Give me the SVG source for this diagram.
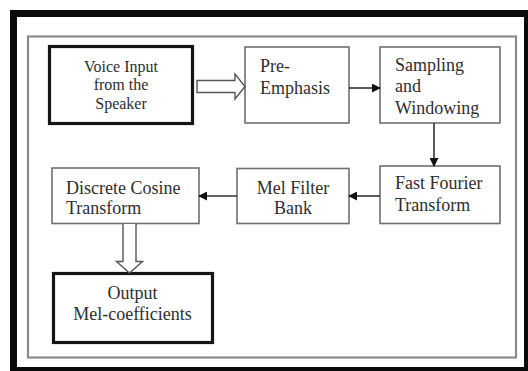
<svg xmlns="http://www.w3.org/2000/svg" width="528" height="371" viewBox="0 0 528 371">
<defs>
<style>
.box{fill:#fff;stroke:#707070;stroke-width:1.6}
.thick{fill:#fff;stroke:#151515;stroke-width:3.2}
.t{font-family:"Liberation Serif","Times New Roman",serif;font-size:18px;fill:#2e2e2e}
.c{text-anchor:middle}
.ln{stroke:#333;stroke-width:1.6;fill:none}
.hollow{fill:#fff;stroke:#555;stroke-width:1.4}
</style>
<marker id="ah" viewBox="0 0 10 10" refX="9" refY="5" markerWidth="9" markerHeight="9" markerUnits="userSpaceOnUse" orient="auto">
<path d="M0,0 L10,5 L0,10 z" fill="#111"/>
</marker>
</defs>
<rect x="0" y="0" width="528" height="371" fill="#fff"/>
<rect x="13.5" y="13.5" width="514" height="357" fill="none" stroke="#0a0a0a" stroke-width="7"/>
<rect x="28" y="36.5" width="488" height="321" fill="none" stroke="#8a8a8a" stroke-width="2.2"/>

<g id="voice">
<rect class="thick" x="49.5" y="46.5" width="143" height="77"/>
<text class="t c" x="121" y="71.5" style="font-size:16px">Voice Input</text>
<text class="t c" x="121" y="90" style="font-size:16px">from the</text>
<text class="t c" x="121" y="108.5" style="font-size:16px">Speaker</text>
</g>
<g id="preemphasis">
<rect class="box" x="245" y="47" width="104" height="76"/>
<text class="t" x="260" y="72">Pre-</text>
<text class="t" x="260" y="93.5">Emphasis</text>
</g>
<g id="sampling">
<rect class="box" x="380" y="47" width="120" height="76"/>
<text class="t" x="395" y="70.5">Sampling</text>
<text class="t" x="395" y="92">and</text>
<text class="t" x="395" y="113.5">Windowing</text>
</g>
<g id="fft">
<rect class="box" x="380" y="166" width="120" height="57.5"/>
<text class="t" x="395" y="189">Fast Fourier</text>
<text class="t" x="395" y="210.5">Transform</text>
</g>
<g id="melfilter">
<rect class="box" x="237" y="168.5" width="112" height="55"/>
<text class="t c" x="293" y="193.5">Mel Filter</text>
<text class="t c" x="293" y="214">Bank</text>
</g>
<g id="dct">
<rect class="box" x="52" y="168" width="147" height="55.5"/>
<text class="t" x="66" y="193.5">Discrete Cosine</text>
<text class="t" x="66" y="213.5">Transform</text>
</g>
<g id="output">
<rect class="thick" x="53.5" y="273.5" width="159" height="69"/>
<text class="t c" x="132.5" y="298.5">Output</text>
<text class="t c" x="132.5" y="320">Mel-coefficients</text>
</g>

<g id="connectors">
<path class="hollow" d="M197,80.5 L235,80.5 L235,74 L245,86.5 L235,99 L235,92.5 L197,92.5 Z"/>
<line class="ln" x1="349" y1="88" x2="380" y2="88" marker-end="url(#ah)"/>
<line class="ln" x1="434" y1="123" x2="434" y2="166" marker-end="url(#ah)"/>
<line class="ln" x1="380" y1="196" x2="349" y2="196" marker-end="url(#ah)"/>
<line class="ln" x1="237" y1="196" x2="199" y2="196" marker-end="url(#ah)"/>
<path class="hollow" d="M123,224 L123,261.5 L116.5,261.5 L129.5,273 L142.5,261.5 L136,261.5 L136,224"/>
</g>
</svg>
